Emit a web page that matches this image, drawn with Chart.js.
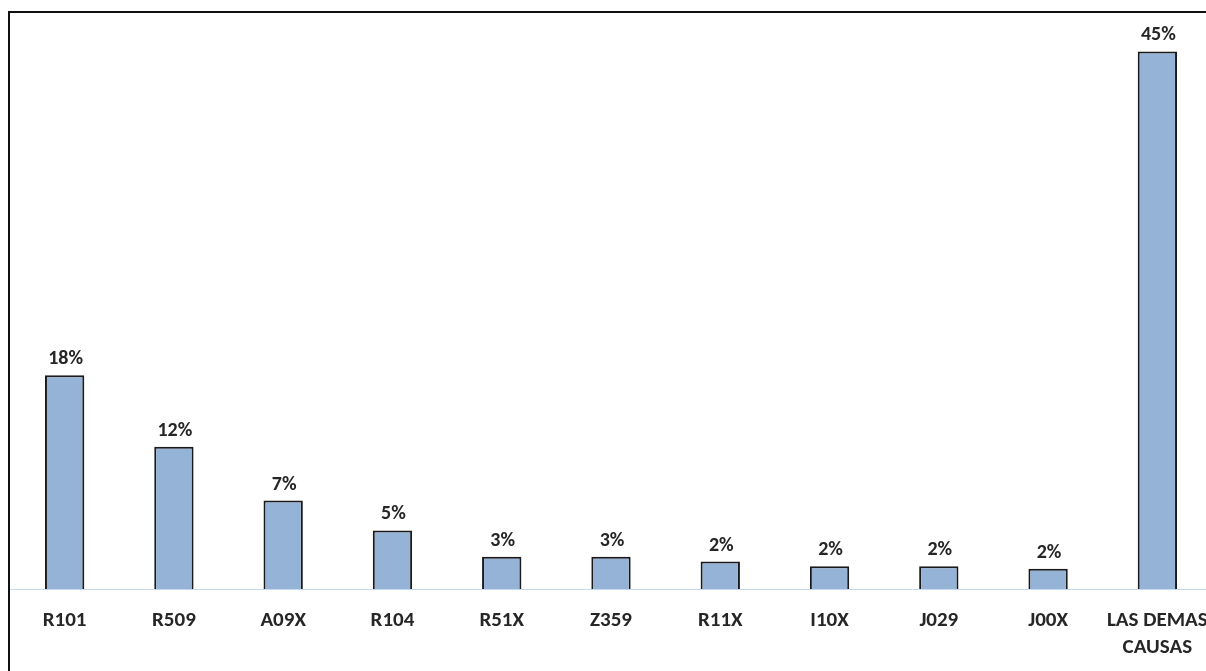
<!DOCTYPE html>
<html>
<head>
<meta charset="utf-8">
<script src="https://cdn.jsdelivr.net/npm/chart.js@4"></script>
<style>
  html, body { margin: 0; padding: 0; background: #fff; overflow: hidden; }
  #wrap { position: absolute; left: 0; top: 0; width: 1230px; height: 671px; }
</style>
</head>
<body>
<div id="wrap"><canvas id="chart" width="1230" height="671"></canvas></div>
<script>
// causes (codes) and their share of total, in percent
const categories = ['R101', 'R509', 'A09X', 'R104', 'R51X', 'Z359', 'R11X', 'I10X', 'J029', 'J00X', ['LAS DEMAS', 'CAUSAS']];
const shares = [17.9, 11.9, 7.4, 4.9, 2.7, 2.7, 2.3, 1.9, 1.9, 1.7, 45.0];

const textColor = '#262626';
const fontFamily = 'Carlito, Calibri, "Liberation Sans", Arial, sans-serif';

// percent labels above each bar
const valueLabels = {
    id: 'valueLabels',
    afterDatasetsDraw(chart) {
        const ctx = chart.ctx;
        const meta = chart.getDatasetMeta(0);
        ctx.save();
        ctx.font = 'bold 20px ' + fontFamily;
        ctx.fillStyle = textColor;
        ctx.textAlign = 'center';
        ctx.textBaseline = 'alphabetic';
        meta.data.forEach((bar, i) => {
            ctx.fillText(Math.round(shares[i]) + '%', bar.x + 1, bar.y - 11);
        });
        ctx.restore();
    }
};

// frame around the chart (only top and left fall inside the window)
const frame = {
    id: 'frame',
    afterDraw(chart) {
        const ctx = chart.ctx;
        ctx.save();
        ctx.strokeStyle = '#111';
        ctx.lineWidth = 2;
        ctx.beginPath();
        ctx.moveTo(9, chart.height + 5);
        ctx.lineTo(9, 12);
        ctx.lineTo(chart.width + 5, 12);
        ctx.stroke();
        ctx.restore();
    }
};

const ctx = document.getElementById('chart').getContext('2d');
new Chart(ctx, {
    type: 'bar',
    data: {
        labels: categories,
        datasets: [{
            data: shares,
            backgroundColor: '#95B3D7',
            borderColor: '#1a1a1a',
            borderWidth: 2,
            categoryPercentage: 1,
            barPercentage: 0.36,
        }],
    },
    options: {
        responsive: false,
        animation: false,
        layout: { padding: { top: 12, left: 10, right: 18, bottom: 0 } },
        plugins: {
            legend: { display: false },
            tooltip: { enabled: false },
        },
        scales: {
            x: {
                grid: { display: false, drawTicks: false },
                border: { display: true, color: '#c6d9f1', width: 1 },
                ticks: {
                    color: textColor,
                    font: { family: fontFamily, size: 21, weight: 'bold', lineHeight: 1.3 },
                    padding: 18,
                    maxRotation: 0,
                    autoSkip: false,
                },
                afterFit(scale) { scale.height = 82; },
            },
            y: {
                display: false,
                min: 0,
                max: 48.3,
            },
        },
    },
    plugins: [valueLabels, frame],
});
</script>
</body>
</html>
